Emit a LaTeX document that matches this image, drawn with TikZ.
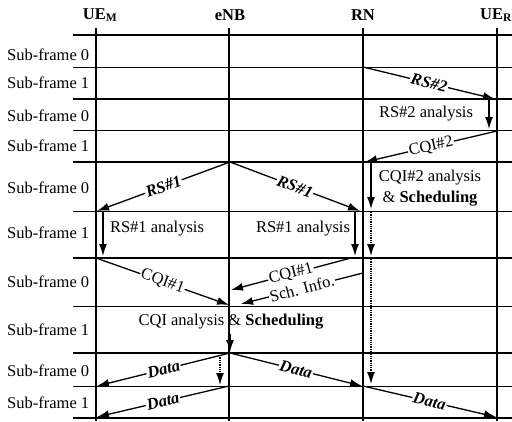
\documentclass[tikz,border=0pt]{standalone}
\usepackage{fontspec}
\setmainfont{Liberation Serif}
\usetikzlibrary{arrows.meta}
\begin{document}
\begin{tikzpicture}[x=1pt,y=-1pt,
  font=\fontsize{16.5}{20}\selectfont,
  thickline/.style={line width=2pt},
  thinline/.style={line width=0.8pt},
  life/.style={line width=1.4pt},
  msg/.style={line width=1.3pt,-{Latex[length=12pt,width=8pt]}},
  dotmsg/.style={msg,densely dotted},
  lbl/.style={midway,sloped,fill=white,inner sep=1pt},
  hdr/.style={font=\fontsize{16.5}{19}\selectfont\bfseries},
  rowlbl/.style={anchor=west,inner sep=0pt},
  txt/.style={inner sep=0pt}]
\useasboundingbox (0,0) rectangle (512,421);
% frame lines
\foreach \yy in {35,99,162,258,353,418} \draw[thickline] (73,\yy) -- (512,\yy);
\foreach \yy in {67,130,211,306,386} \draw[thinline] (73,\yy) -- (512,\yy);
% headers
\node[hdr] (hM) at (100,15) {UE\textsubscript{M}};
\node[hdr] (hE) at (230,15) {eNB};
\node[hdr] (hR) at (363,15) {RN};
\node[hdr] (hU) at (496,15) {UE\textsubscript{R}};
% lifelines
\coordinate (Mt) at (96,28); \coordinate (Mb) at (96,421);
\coordinate (Et) at (229,28); \coordinate (Eb) at (229,421);
\coordinate (Rt) at (363,28); \coordinate (Rb) at (363,421);
\coordinate (Ut) at (497,28); \coordinate (Ub) at (497,421);
\draw[life] (Mt) -- (Mb);
\draw[life] (Et) -- (Eb);
\draw[life] (Rt) -- (Rb);
\draw[life] (Ut) -- (Ub);
% row labels
\node[rowlbl] (s1) at (7,55) {Sub-frame 0};
\node[rowlbl] (s2) at (7,83) {Sub-frame 1};
\node[rowlbl] (s3) at (7,116) {Sub-frame 0};
\node[rowlbl] (s4) at (7,146) {Sub-frame 1};
\node[rowlbl] (s5) at (7,188) {Sub-frame 0};
\node[rowlbl] (s6) at (7,233) {Sub-frame 1};
\node[rowlbl] (s7) at (7,282) {Sub-frame 0};
\node[rowlbl] (s8) at (7,330) {Sub-frame 1};
\node[rowlbl] (s9) at (7,371) {Sub-frame 0};
\node[rowlbl] (s10) at (7,403) {Sub-frame 1};
% message points
\coordinate (a1) at (363,67);  \coordinate (a2) at (495,99);
\coordinate (b1) at (489,100); \coordinate (b2) at (489,129);
\coordinate (c1) at (497,131); \coordinate (c2) at (365,162);
\coordinate (d1) at (371,163); \coordinate (d2) at (371,209);
\coordinate (e1) at (371,212); \coordinate (e2) at (371,256);
\coordinate (f1) at (371,259); \coordinate (f2) at (371,384);
\coordinate (g0) at (230,162);
\coordinate (g1) at (97,211);  \coordinate (g2) at (360,211);
\coordinate (h1) at (103,212); \coordinate (h2) at (103,256);
\coordinate (i1) at (355,212); \coordinate (i2) at (355,256);
\coordinate (j1) at (96,258);  \coordinate (j2) at (229,305);
\coordinate (k1) at (351,258); \coordinate (k2) at (231,290);
\coordinate (l1) at (363,273); \coordinate (l2) at (241,304);
\coordinate (m1) at (230,334); \coordinate (m2) at (230,352);
\coordinate (n0) at (230,353);
\coordinate (n1) at (97,386);  \coordinate (n2) at (362,386);
\coordinate (o1) at (220,355); \coordinate (o2) at (220,385);
\coordinate (p0) at (229,386); \coordinate (p1) at (97,417);
\coordinate (q0) at (363,386); \coordinate (q1) at (496,417);
% messages
\draw[msg] (a1) -- node[lbl] {\textbf{\textit{RS\#2}}} (a2);
\draw[msg] (b1) -- (b2);
\node[txt] (t1) at (426,114) {RS\#2 analysis};
\draw[msg] (c1) -- node[lbl] {CQI\#2} (c2);
\draw[msg] (d1) -- (d2);
\node[txt,align=center,font=\fontsize{16.5}{21}\selectfont] (t2) at (430,188) {CQI\#2 analysis\\\& \textbf{Scheduling}};
\draw[dotmsg] (e1) -- (e2);
\draw[dotmsg] (f1) -- (f2);
\draw[msg] (g0) -- node[lbl] {\textbf{\textit{RS\#1}}} (g1);
\draw[msg] (g0) -- node[lbl] {\textbf{\textit{RS\#1}}} (g2);
\draw[msg] (h1) -- (h2);
\node[txt] (t3) at (157,229) {RS\#1 analysis};
\draw[msg] (i1) -- (i2);
\node[txt] (t4) at (303,229) {RS\#1 analysis};
\draw[msg] (j1) -- node[lbl] {CQI\#1} (j2);
\draw[msg] (k1) -- node[lbl] {CQI\#1} (k2);
\draw[msg] (l1) -- node[lbl] {Sch. Info.} (l2);
\node[txt] (t5) at (231,322) {CQI analysis \& \textbf{Scheduling}};
\draw[msg] (m1) -- (m2);
\draw[msg] (n0) -- node[lbl] {\textbf{\textit{Data}}} (n1);
\draw[msg] (n0) -- node[lbl] {\textbf{\textit{Data}}} (n2);
\draw[dotmsg] (o1) -- (o2);
\draw[msg] (p0) -- node[lbl] {\textbf{\textit{Data}}} (p1);
\draw[msg] (q0) -- node[lbl] {\textbf{\textit{Data}}} (q1);
\end{tikzpicture}
\end{document}
